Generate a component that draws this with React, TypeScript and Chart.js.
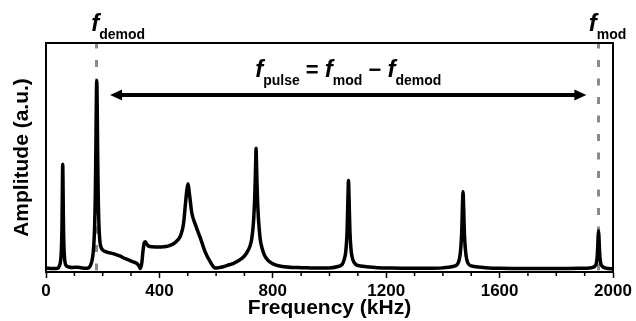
import React, { useEffect, useRef } from 'react';
import { Chart, registerables } from 'chart.js';

Chart.register(...registerables);

// Spectrum (frequency in kHz, amplitude in a.u. 0..100)
const FREQ_KHZ = [
  0, 10, 20, 30, 40, 48, 52, 54.5, 56, 57, 58, 59, 60, 61, 62, 63.5, 66, 70, 80, 95,
  110, 125, 140, 150, 157, 163, 167, 170, 172, 173.5, 175, 176, 177, 178, 179, 180, 181, 182, 183, 184.5,
  186, 188, 191, 195, 200, 215, 237, 260, 280, 296, 310, 320, 327, 333, 338, 342, 346, 350, 355, 362,
  375, 395, 415, 430, 450, 465, 475, 485, 491, 497, 501, 505, 509, 514, 526, 544, 561, 579, 597, 610,
  625, 640, 660, 680, 700, 710, 720, 725, 730, 733, 736, 738, 740, 741, 742, 744, 746, 749, 752, 756,
  762, 770, 780, 792, 805, 820, 840, 870, 900, 950, 1000, 1030, 1045, 1052, 1057, 1060, 1062, 1064, 1066, 1067,
  1068, 1070, 1072, 1074, 1077, 1082, 1092, 1110, 1130, 1170, 1220, 1280, 1340, 1400, 1435, 1450, 1458, 1462, 1465, 1467,
  1469, 1471, 1473, 1475, 1477, 1480, 1484, 1492, 1510, 1550, 1600, 1700, 1800, 1880, 1924, 1935, 1941, 1944, 1946, 1947.5,
  1949, 1950.5, 1952, 1954, 1957, 1963, 1975, 2000,
];
const AMPLITUDE = [
  1.7, 1.6, 1.5, 1.5, 1.6, 2.9, 5.3, 10.3, 17.5, 26.7, 39.7, 47, 39.7, 26.7, 17.5, 10.3, 5.3, 3.0, 2.2, 2.0,
  2.1, 1.8, 1.6, 1.8, 2.9, 5.4, 9.1, 14.9, 22, 30.8, 43.7, 55, 68, 79, 83.5, 79, 68, 55, 43.7, 31,
  23, 17, 12.5, 10.5, 9.6, 8.7, 8.0, 7.0, 5.8, 5.0, 4.3, 3.8, 2.8, 1.5, 4, 9, 12.5, 13.2, 12.3, 11.3,
  11.0, 10.9, 11.0, 11.3, 12.3, 14, 16, 21, 28.5, 36, 38.5, 35, 31, 26, 21, 15, 8.9, 4.5, 1.7, 1.9,
  2.3, 2.9, 3.7, 5.0, 7.0, 8.8, 11.5, 14, 19, 24, 32, 40, 50, 54, 50, 40, 32, 24, 19, 14,
  10.5, 7.5, 5.5, 4.2, 3.3, 2.7, 2.3, 2.0, 1.9, 1.7, 1.8, 2.4, 3.4, 5.5, 8.5, 13, 18, 27, 37, 40,
  37, 27, 18, 13, 8.5, 5.5, 3.4, 2.6, 2.3, 1.9, 1.7, 1.6, 1.6, 1.8, 2.4, 3.2, 5.5, 9, 14, 20,
  29, 35, 29, 20, 14, 9, 5.5, 3.2, 2.4, 1.9, 1.6, 1.5, 1.5, 1.6, 1.9, 2.4, 3.7, 6.4, 10.5, 15.2,
  18, 15.2, 10.5, 6.4, 3.7, 2.4, 1.7, 1.4,
];

const X_MIN = 0;
const X_MAX = 2000;
const X_MAJOR_STEP = 400;
const X_MINOR_TICKS = [100, 200, 300, 500, 600, 700, 900, 1000, 1100, 1300, 1400, 1500, 1700, 1800, 1900];
const Y_MIN = 0;
const Y_MAX = 100;

// Annotations (kHz / a.u.)
const F_DEMOD = 177;
const F_MOD = 1948;
const ARROW_FROM = 226;
const ARROW_TO = 1906;
const ARROW_AMP = 77.3;

const X_TITLE = 'Frequency (kHz)';
const Y_TITLE = 'Amplitude (a.u.)';

const FONT = '"Liberation Sans", Arial, Helvetica, sans-serif';

function drawF(ctx: CanvasRenderingContext2D, x: number, y: number, sub: string, big: number, small: number, dy: number, draw = true): number {
  ctx.font = `italic bold ${big}px ${FONT}`;
  const w = ctx.measureText('f').width;
  if (draw) ctx.fillText('f', x, y);
  ctx.font = `bold ${small}px ${FONT}`;
  if (draw) ctx.fillText(sub, x + w, y + dy);
  return w + ctx.measureText(sub).width;
}

function drawOp(ctx: CanvasRenderingContext2D, x: number, y: number, op: string, size: number, draw = true): number {
  ctx.font = `bold ${size}px ${FONT}`;
  if (draw) ctx.fillText(op, x, y);
  return ctx.measureText(op).width;
}

const annotationPlugin = {
  id: 'spectrumAnnotations',
  beforeDatasetsDraw(chart: any) {
    const { ctx, chartArea, scales } = chart;
    const x = scales.x;
    ctx.save();
    ctx.strokeStyle = '#8a8a8a';
    ctx.lineWidth = 3;
    ctx.setLineDash([7, 11.5]);
    ctx.lineDashOffset = 1.5;
    [F_DEMOD, F_MOD].forEach((f) => {
      const px = Math.round(x.getPixelForValue(f)) + 0.5;
      ctx.beginPath();
      ctx.moveTo(px, chartArea.top);
      ctx.lineTo(px, chartArea.bottom);
      ctx.stroke();
    });
    ctx.restore();
  },
  afterDraw(chart: any) {
    const { ctx, chartArea, scales } = chart;
    const x = scales.x;
    const y = scales.y;
    ctx.save();
    // frame top + right
    ctx.strokeStyle = '#000';
    ctx.lineWidth = 2;
    ctx.beginPath();
    ctx.moveTo(chartArea.left, chartArea.top);
    ctx.lineTo(chartArea.right, chartArea.top);
    ctx.lineTo(chartArea.right, chartArea.bottom);
    ctx.stroke();
    // minor ticks
    ctx.lineWidth = 1.5;
    X_MINOR_TICKS.forEach((v) => {
      const px = x.getPixelForValue(v);
      ctx.beginPath();
      ctx.moveTo(px, chartArea.bottom);
      ctx.lineTo(px, chartArea.bottom + 4);
      ctx.stroke();
    });
    // arrow
    const ay = y.getPixelForValue(ARROW_AMP);
    const ax1 = x.getPixelForValue(ARROW_FROM);
    const ax2 = x.getPixelForValue(ARROW_TO);
    const head = 12;
    const half = 5.5;
    ctx.lineWidth = 4;
    ctx.beginPath();
    ctx.moveTo(ax1 + head - 1, ay);
    ctx.lineTo(ax2 - head + 1, ay);
    ctx.stroke();
    ctx.fillStyle = '#000';
    ctx.beginPath();
    ctx.moveTo(ax1, ay);
    ctx.lineTo(ax1 + head, ay - half);
    ctx.lineTo(ax1 + head, ay + half);
    ctx.closePath();
    ctx.fill();
    ctx.beginPath();
    ctx.moveTo(ax2, ay);
    ctx.lineTo(ax2 - head, ay - half);
    ctx.lineTo(ax2 - head, ay + half);
    ctx.closePath();
    ctx.fill();

    // formula text
    ctx.textAlign = 'left';
    ctx.textBaseline = 'alphabetic';
    const big = 24;
    const small = 14;
    const base = ay - 18;
    const parts = (draw: boolean, start: number) => {
      let cx = start;
      cx += drawF(ctx, cx, base, 'pulse', big, small, 8, draw);
      cx += drawOp(ctx, cx, base, ' = ', 22, draw);
      cx += drawF(ctx, cx, base, 'mod', big, small, 8, draw);
      cx += drawOp(ctx, cx, base, ' \u2212 ', 22, draw);
      cx += drawF(ctx, cx, base, 'demod', big, small, 8, draw);
      return cx - start;
    };
    const total = parts(false, 0);
    const mid = (ax1 + ax2) / 2;
    parts(true, mid - total / 2);

    // labels above frame
    const topBase = chartArea.top - 12;
    drawF(ctx, x.getPixelForValue(F_DEMOD) - 5, topBase, 'demod', big, small, 8);
    drawF(ctx, x.getPixelForValue(F_MOD) - 9.5, topBase, 'mod', big, small, 8);
    ctx.restore();
  },
};

export default function App() {
  const canvasRef = useRef<HTMLCanvasElement | null>(null);

  useEffect(() => {
    document.body.style.margin = '0';
    const canvas = canvasRef.current;
    if (!canvas) return;
    const points = FREQ_KHZ.map((f, i) => ({ x: f, y: AMPLITUDE[i] }));
    const chart = new Chart(canvas, {
      type: 'line',
      data: {
        datasets: [
          {
            data: points,
            borderColor: '#000',
            borderWidth: 3.5,
            pointRadius: 0,
            fill: false,
            cubicInterpolationMode: 'monotone',
          },
        ],
      },
      options: {
        animation: false,
        responsive: true,
        maintainAspectRatio: false,
        devicePixelRatio: 1,
        layout: { padding: { top: 43, right: 23, left: 0, bottom: 0 } },
        plugins: { legend: { display: false }, tooltip: { enabled: false } },
        scales: {
          x: {
            type: 'linear',
            min: X_MIN,
            max: X_MAX,
            afterFit: (s: any) => { s.height = 49; },
            afterBuildTicks: (s: any) => {
              const t = [];
              for (let v = X_MIN; v <= X_MAX; v += X_MAJOR_STEP) t.push({ value: v });
              s.ticks = t;
            },
            ticks: {
              stepSize: X_MAJOR_STEP,
              color: '#000',
              padding: 3,
              maxRotation: 0,
              font: { family: FONT, size: 17, weight: 'bold' },
              callback: (v: any) => String(v),
            },
            grid: { drawOnChartArea: false, tickLength: 6, tickWidth: 1.5, tickColor: '#000' },
            border: { display: true, color: '#000', width: 2 },
            title: {
              display: true,
              text: X_TITLE,
              color: '#000',
              font: { family: FONT, size: 21, weight: 'bold' },
              padding: { top: 0, bottom: 0 },
            },
          },
          y: {
            min: Y_MIN,
            max: Y_MAX,
            afterFit: (s: any) => { s.width = 46; },
            ticks: { display: false },
            grid: { display: false },
            border: { display: true, color: '#000', width: 2 },
            title: {
              display: true,
              text: Y_TITLE,
              color: '#000',
              font: { family: FONT, size: 21, weight: 'bold' },
              padding: { top: 10, bottom: 0 },
            },
          },
        },
      } as any,
      plugins: [annotationPlugin],
    });
    return () => chart.destroy();
  }, []);

  return (
    <div style={{ width: 636, height: 321, position: 'relative' }}>
      <canvas ref={canvasRef} />
    </div>
  );
}
